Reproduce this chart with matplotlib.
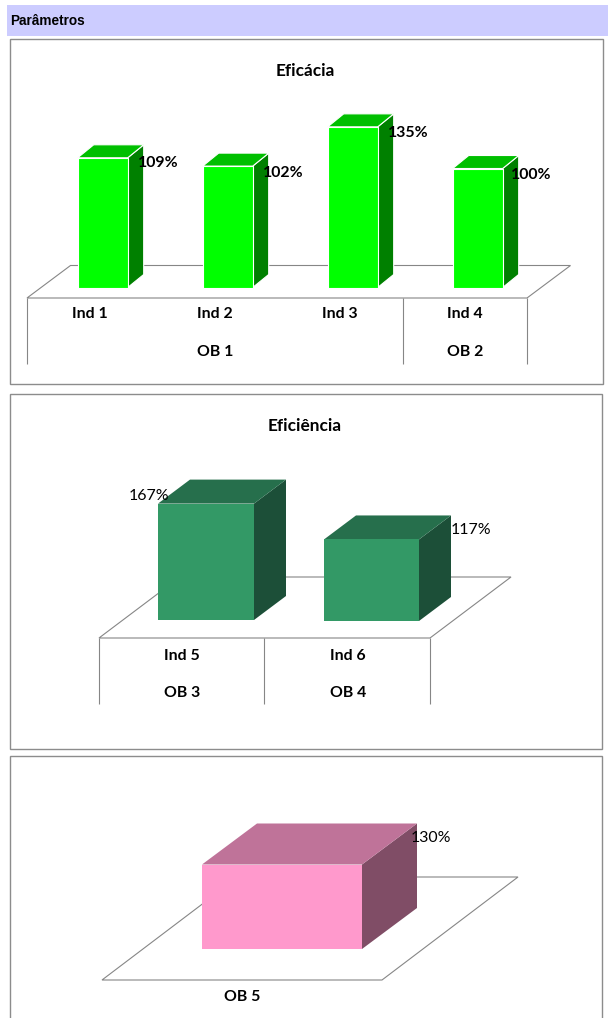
import matplotlib
matplotlib.use("Agg")
import matplotlib.pyplot as plt
from matplotlib.patches import Polygon, Rectangle

# ---- data ----
header_text = "Parâmetros"

eficacia_title = "Eficácia"
eficacia_inds = ["Ind 1", "Ind 2", "Ind 3", "Ind 4"]
eficacia_values = [109, 102, 135, 100]
eficacia_groups = ["OB 1", "OB 2"]

eficiencia_title = "Eficiência"
eficiencia_inds = ["Ind 5", "Ind 6"]
eficiencia_values = [167, 117]
eficiencia_groups = ["OB 3", "OB 4"]

param_groups = ["OB 5"]
param_values = [130]

W, H = 608, 1018
LINE = "#868686"
FONT = "Lato"

fig = plt.figure(figsize=(W / 100, H / 100), dpi=100, facecolor="white")
ax = fig.add_axes([0, 0, 1, 1])
ax.set_xlim(0, W)
ax.set_ylim(H, 0)
ax.axis("off")


def frame(x0, y0, x1, y1):
    ax.add_patch(Rectangle((x0, y0), x1 - x0, y1 - y0, fc="white", ec="#8c8c8c", lw=1.0, zorder=1))


def floor(xl, xr, yf, yb, dx):
    ax.add_patch(Polygon([(xl, yf), (xr, yf), (xr + dx, yb), (xl + dx, yb)], closed=True,
                         fc="white", ec=LINE, lw=0.8, zorder=2))


def bar3d(x0, x1, base, value, scale, dx, dy, front, top, side, edge):
    y = base - value * scale
    kw = dict(closed=True, ec=edge, lw=0.8, zorder=4, joinstyle="round")
    ax.add_patch(Polygon([(x1, base), (x1 + dx, base + dy), (x1 + dx, y + dy), (x1, y)], fc=side, **kw))
    ax.add_patch(Polygon([(x0, y), (x1, y), (x1 + dx, y + dy), (x0 + dx, y + dy)], fc=top, **kw))
    ax.add_patch(Polygon([(x0, base), (x1, base), (x1, y), (x0, y)], fc=front, **kw))


def label(x, y, s, bold=True, size=11.4):
    ax.text(x, y + 1.3, s, ha="center", va="center", family=FONT, fontsize=size,
            fontweight="bold" if bold else "normal", color="black", zorder=6)


def vlines(xs, y0, y1):
    for x in xs:
        ax.plot([x, x], [y0, y1], color=LINE, lw=0.8, zorder=3, solid_capstyle="butt")


# header
ax.add_patch(Rectangle((7, 5), W - 7, 31, fc="#CCCCFF", ec="none", zorder=1))
ax.text(10, 20.5, header_text, ha="left", va="center", family="Liberation Sans",
        fontsize=9.8, fontweight="bold", color="black", zorder=6)

# ---- panel 1 ----
frame(9.5, 38.5, 602.5, 383.5)
label(305, 70, eficacia_title, size=12.4)
floor(27, 527, 298, 265.5, 43.5)
vlines([27, 402.5, 527], 298, 363.5)
for i, (name, v) in enumerate(zip(eficacia_inds, eficacia_values)):
    x0 = 77.7 + 125 * i
    bar3d(x0, x0 + 50, 287.5, v, 1.19, 16, -13, "#00FF00", "#00BF00", "#008000", "white")
    label(x0 + 12, 313, name)
    label(x0 + 80.5 - (2 if i == 3 else 0), 287.5 - v * 1.19 + 5.5 - (2 if i == 0 else 0) - (1 if i == 2 else 0), f"{v}%")
label(215, 351, eficacia_groups[0])
label(465, 351, eficacia_groups[1])

# ---- panel 2 ----
frame(9.5, 393.5, 601.5, 749)
label(305, 425, eficiencia_title, size=12.4)
floor(99, 430, 638, 577, 81)
vlines([99, 264, 430], 638, 704)
for x0, x1, base, name, grp, v, lx, ly in zip([158, 324], [254, 419], [620, 621], eficiencia_inds,
                                              eficiencia_groups, eficiencia_values, [149, 471], [495, 529]):
    bar3d(x0, x1, base, v, 0.697, 32, -24, "#339966", "#266F4C", "#1C4F38", "none")
    label(x0 + 24, 655, name)
    label(x0 + 24, 692, grp)
    label(lx, ly, f"{v}%", bold=False)

# ---- panel 3 ----
frame(9.5, 755.5, 601.5, H + 5)
floor(102, 382, 980, 877, 136)
bar3d(202, 362, 949, param_values[0], 0.65, 55, -41, "#FF99CC", "#BF7399", "#804D66", "none")
label(431, 837, f"{param_values[0]}%", bold=False)
label(242, 996, param_groups[0])

fig.savefig("out.png", dpi=100, facecolor="white")
